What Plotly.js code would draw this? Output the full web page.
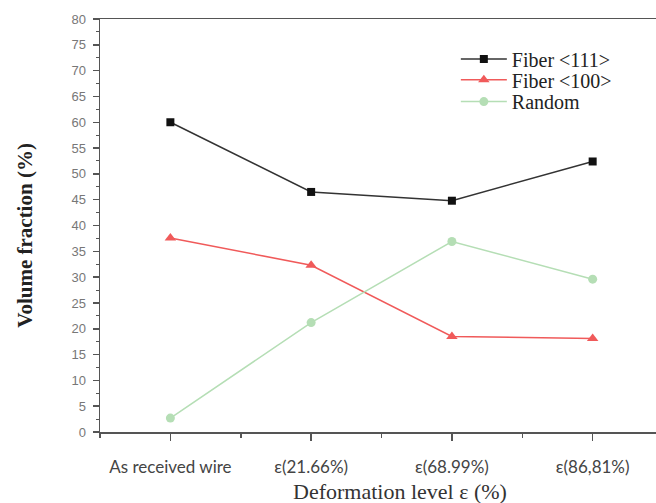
<!DOCTYPE html>
<html>
<head>
<meta charset="utf-8">
<script src="https://cdn.plot.ly/plotly-3.0.1.min.js"></script>
<style>html,body{margin:0;padding:0;background:#fff;overflow:hidden}</style>
</head>
<body>
<div id="chart" style="width:656px;height:503px"></div>
<script>
const categories = ["As received wire", "ε(21.66%)", "ε(68.99%)", "ε(86,81%)"];
const seriesNames = ["Fiber &lt;111&gt;", "Fiber &lt;100&gt;", "Random"];
const fiber111 = [60.0, 46.5, 44.8, 52.4];
const fiber100 = [37.6, 32.3, 18.5, 18.1];
const randomTex = [2.7, 21.2, 36.9, 29.6];
const yTickVals = [0,5,10,15,20,25,30,35,40,45,50,55,60,65,70,75,80];

const xIdx = categories.map((c, i) => i);
const serifName = n => '<span style="font-family:\'Liberation Serif\',serif">' + n + '</span>';

const traces = [
  {name: serifName(seriesNames[0]), legend: "legend", x: xIdx, y: fiber111, mode: "lines+markers",
   line: {color: "#333333", width: 1.5},
   marker: {symbol: "square", size: 8, color: "#111111"}},
  {name: serifName(seriesNames[1]), legend: "legend2", x: xIdx, y: fiber100, mode: "lines+markers",
   line: {color: "#f05a5a", width: 1.5},
   marker: {symbol: "triangle-up", size: 10, color: "#f05a5a"}},
  {name: serifName(seriesNames[2]), legend: "legend3", x: xIdx, y: randomTex, mode: "lines+markers",
   line: {color: "#b5deb5", width: 1.5},
   marker: {symbol: "circle", size: 9, color: "#b5deb5"}}
];

function leg(y) {
  return {x: 0.64, y: y, xanchor: "left", yanchor: "middle",
    font: {family: "Liberation Serif", size: 20, color: "#222"},
    bgcolor: "rgba(0,0,0,0)", itemwidth: 46, borderwidth: 0};
}

const layout = {
  width: 656, height: 503,
  margin: {l: 100, r: 0, t: 19, b: 71},
  font: {family: "Liberation Serif", size: 20, color: "#222"},
  paper_bgcolor: "#fff", plot_bgcolor: "#fff",
  showlegend: true,
  legend: leg(0.903),
  legend2: leg(0.853),
  legend3: leg(0.800),
  xaxis: {
    range: [-0.5, 3.45], tickmode: "array", tickvals: xIdx, ticktext: categories,
    showgrid: false, zeroline: false, showline: true, linecolor: "#555", linewidth: 1.5,
    mirror: true, ticks: "outside", ticklen: 7, tickcolor: "#555", tickwidth: 1.5,
    minor: {dtick: 0.5, ticks: "outside", ticklen: 4, tickcolor: "#555", tickwidth: 1.5, tick0: 0.5},
    ticklabelstandoff: 12,
    tickfont: {family: "Lato", size: 17, color: "#444"}
  },
  yaxis: {
    range: [0, 80], tickmode: "array", tickvals: yTickVals,
    showgrid: false, zeroline: false, showline: true, linecolor: "#555", linewidth: 1.5,
    ticks: "outside", ticklen: 6, tickcolor: "#555", tickwidth: 1.5,
    minor: {dtick: 2.5, ticks: "outside", ticklen: 3, tickcolor: "#555", tickwidth: 1},
    ticklabelstandoff: 4,
    tickfont: {family: "Liberation Sans", size: 13, color: "#777"}
  },
  annotations: [{
    text: "Deformation level ε (%)", xref: "paper", yref: "paper",
    x: 0.54, y: 0, yshift: -59, xanchor: "center", yanchor: "middle", showarrow: false,
    font: {family: "Liberation Serif", size: 22, color: "#333"}
  }, {
    text: "<b>Volume fraction (%)</b>", xref: "paper", yref: "paper",
    x: 0, xshift: -75, y: 0.475, xanchor: "center", yanchor: "middle", textangle: -90,
    showarrow: false,
    font: {family: "Liberation Serif", size: 21, color: "#222"}
  }]
};

Plotly.newPlot("chart", traces, layout, {displayModeBar: false, staticPlot: true});
</script>
</body>
</html>
